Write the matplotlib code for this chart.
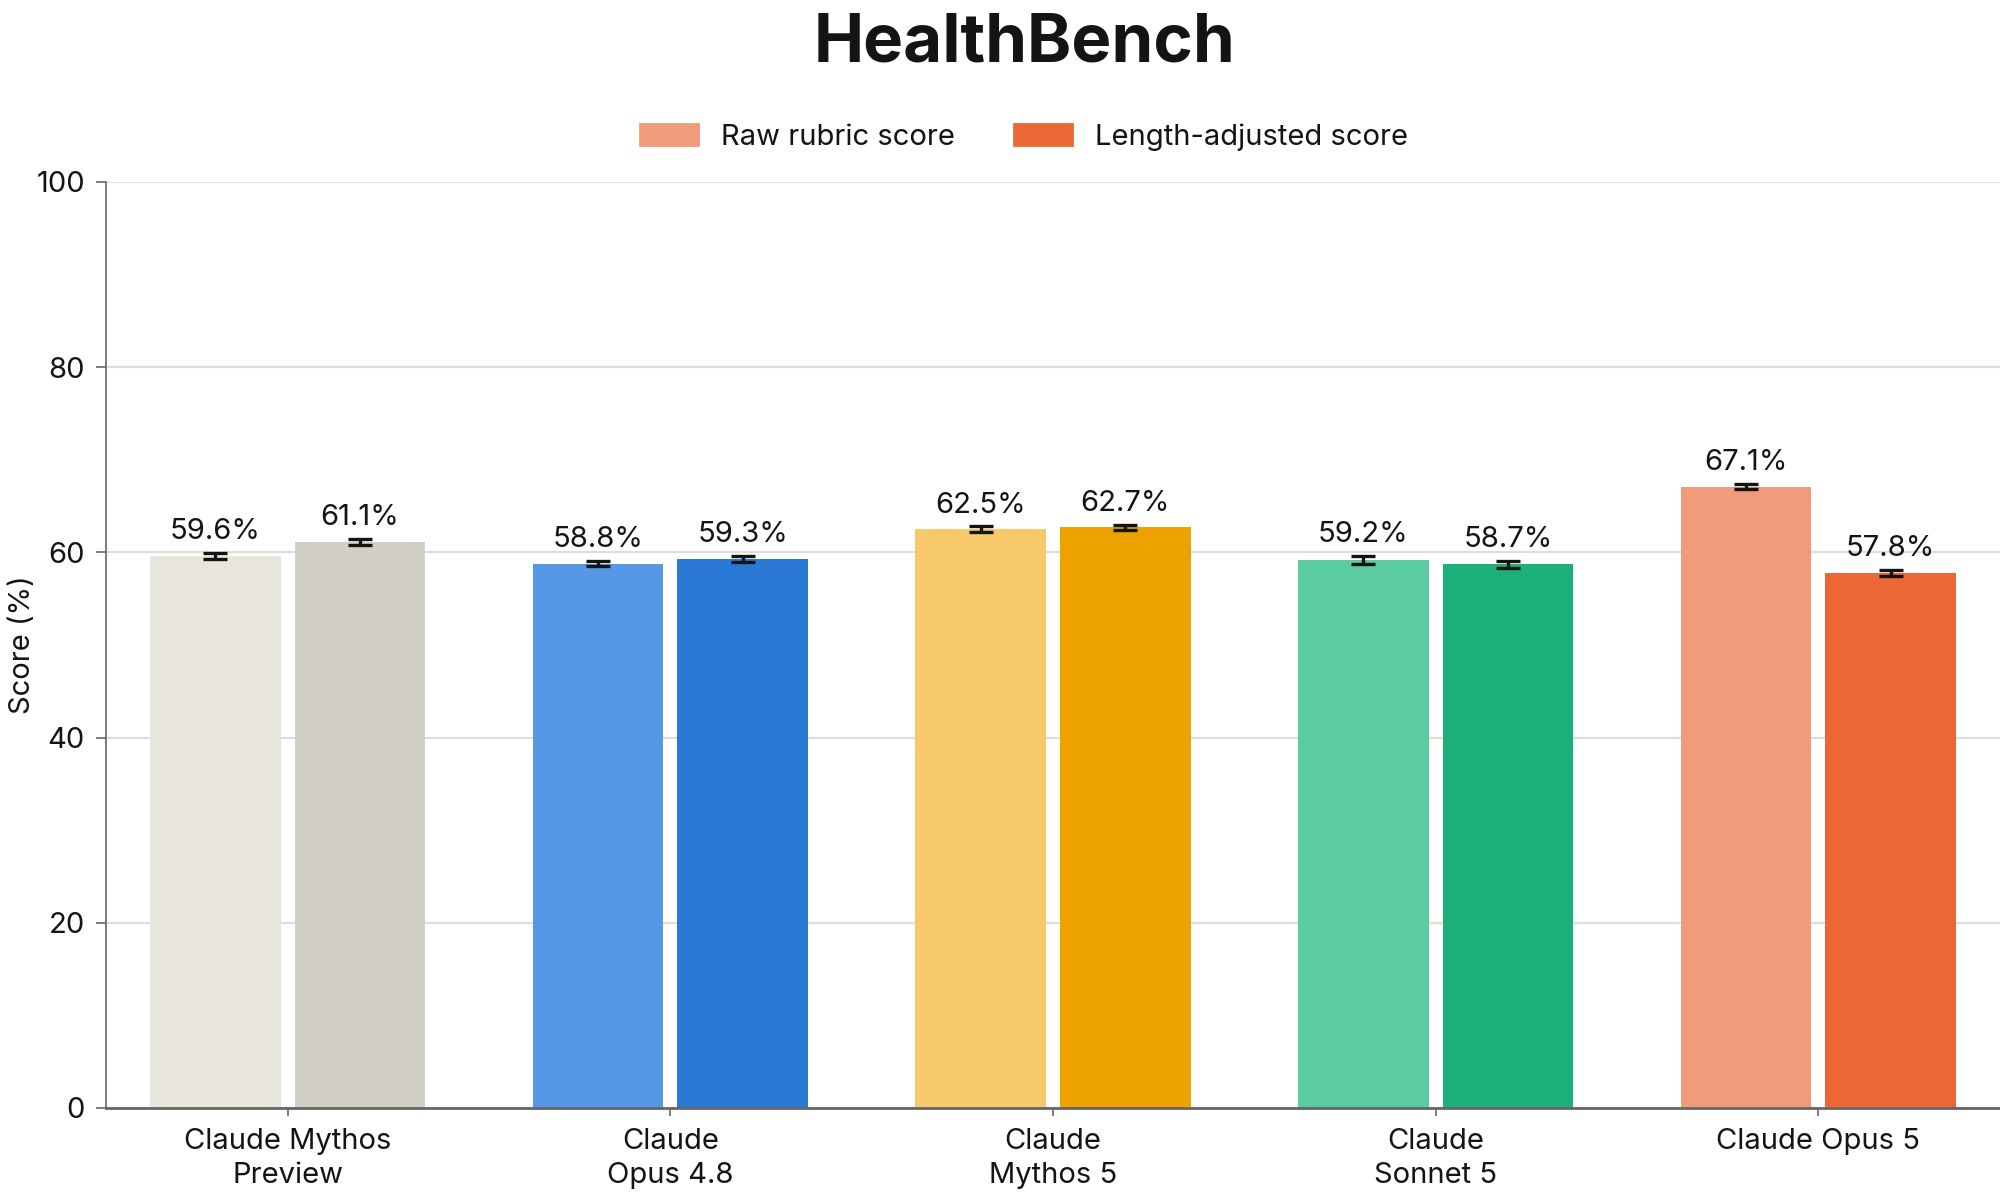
import matplotlib
matplotlib.use("Agg")
import matplotlib.pyplot as plt
import numpy as np
from matplotlib.patches import Patch

models = ["Claude Mythos\nPreview", "Claude\nOpus 4.8", "Claude\nMythos 5", "Claude\nSonnet 5", "Claude Opus 5"]
raw_scores = [59.6, 58.8, 62.5, 59.2, 67.1]
adj_scores = [61.1, 59.3, 62.7, 58.7, 57.8]
raw_err = [0.35, 0.3, 0.3, 0.4, 0.3]
adj_err = [0.35, 0.3, 0.3, 0.4, 0.3]
raw_colors = ["#E8E5DC", "#5599E6", "#F8C86C", "#5BCCA0", "#F09B7A"]
adj_colors = ["#D1CFC6", "#2A78D6", "#EDA200", "#1BB07A", "#EB6836"]
series_names = ["Raw rubric score", "Length-adjusted score"]
yticks = [0, 20, 40, 60, 80, 100]

TEXT = "#141413"
plt.rcParams["font.family"] = ["Inter", "DejaVu Sans"]
plt.rcParams["text.color"] = TEXT

fig = plt.figure(figsize=(10, 6), dpi=200)
ax = fig.add_axes([0.053, 1 - 1108 / 1200, 1 - 0.053, (1108 - 182) / 1200])

x = np.arange(len(models))
w = 0.342
off = 0.189
ax.bar(x - off, raw_scores, w, color=raw_colors, zorder=2)
ax.bar(x + off, adj_scores, w, color=adj_colors, zorder=2)
ekw = dict(fmt="none", ecolor=TEXT, elinewidth=1.2, capsize=4.2, capthick=1.2, zorder=3)
ax.errorbar(x - off, raw_scores, yerr=raw_err, **ekw)
ax.errorbar(x + off, adj_scores, yerr=adj_err, **ekw)

for xs, vals, errs in ((x - off, raw_scores, raw_err), (x + off, adj_scores, adj_err)):
    for xi, v, e in zip(xs, vals, errs):
        ax.annotate(f"{v:.1f}%", (xi, v + e), xytext=(0, 5), textcoords="offset points",
                    ha="center", va="baseline", fontsize=10.5, color=TEXT)

ax.set_xlim(-0.475, len(models) - 1 + 0.475)
ax.set_ylim(0, 100)
ax.set_yticks(yticks)
ax.set_yticklabels([str(t) for t in yticks])
ax.set_xticks(x)
ax.set_xticklabels(models, fontsize=10.5, color=TEXT, linespacing=1.3)
ax.tick_params(axis="y", labelsize=10.5, labelcolor=TEXT, length=3.6, width=0.6, color="#666666", pad=4)
ax.tick_params(axis="x", length=3, width=0.6, color="#666666", pad=4.3)
ax.grid(axis="y", color="#DEDDD8", linewidth=0.8, zorder=0)
ax.set_axisbelow(True)
for s in ("top", "right"):
    ax.spines[s].set_visible(False)
ax.spines["left"].set_color("#666666")
ax.spines["left"].set_linewidth(0.6)
ax.spines["bottom"].set_color("#666666")
ax.spines["bottom"].set_linewidth(1.0)
ax.set_ylabel("Score (%)", fontsize=10.5, color=TEXT)
ax.yaxis.set_label_coords(-0.037, 0.5)

fig.text(0.512, 1 - 62 / 1200, "HealthBench", ha="center", va="baseline",
         fontsize=24.2, fontweight="bold", color=TEXT)
handles = [Patch(color="#F09B7A", label=series_names[0]), Patch(color="#EB6836", label=series_names[1])]
fig.legend(handles=handles, loc="center", bbox_to_anchor=(0.512, 1 - 137 / 1200), ncol=2,
           frameon=False, fontsize=10.5, handlelength=2.0, handleheight=0.7,
           handletextpad=0.8, columnspacing=2.0)

fig.savefig("out.png", dpi=200)
